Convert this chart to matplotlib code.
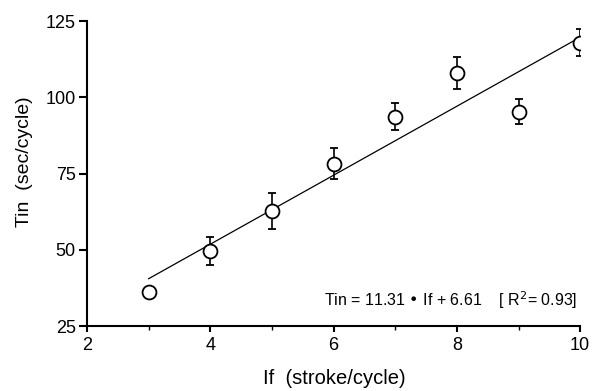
import numpy as np
import matplotlib
matplotlib.use("Agg")
import matplotlib.pyplot as plt
from matplotlib.ticker import MultipleLocator

# -----------------------------
# Data
# -----------------------------
if_vals = [3, 4, 5, 6, 7, 8, 9, 10]
tin_vals = [36.2, 49.6, 62.8, 78.3, 93.6, 108.0, 95.3, 117.9]
tin_err = [0.0, 4.7, 5.8, 5.0, 4.4, 5.1, 4.0, 4.4]

slope = 11.31
intercept = 6.61
fit_x = [3, 10]

plt.rcParams['font.family'] = ['Liberation Sans', 'DejaVu Sans']

# -----------------------------
# Plot
# -----------------------------
fig = plt.figure(figsize=(5.92, 3.91), dpi=100)
ax = fig.add_axes([0.147, 0.166, 0.833, 0.780])

fit_y = [slope * x + intercept for x in fit_x]
ax.plot(fit_x, fit_y, color="black", linewidth=0.9, zorder=1)

ax.errorbar(if_vals, tin_vals, yerr=tin_err, fmt="o", markersize=10,
            markerfacecolor="white", markeredgecolor="black", markeredgewidth=1.3,
            ecolor="black", elinewidth=1.2, capsize=3, capthick=1.3, zorder=2)

ax.set_xlim(2, 10)
ax.set_ylim(25, 125)
ax.xaxis.set_major_locator(MultipleLocator(2))
ax.xaxis.set_minor_locator(MultipleLocator(1))
ax.yaxis.set_major_locator(MultipleLocator(25))

for side in ["top", "right"]:
    ax.spines[side].set_visible(False)
for side in ["left", "bottom"]:
    ax.spines[side].set_linewidth(1.5)

ax.tick_params(which="major", direction="out", width=1.5, labelsize=13)
ax.tick_params(axis="x", which="major", length=4, pad=4)
ax.tick_params(axis="y", which="major", length=6, pad=2)
ax.tick_params(which="minor", direction="out", length=3, width=1.0)

ax.set_xlabel("If  (stroke/cycle)", fontsize=14.5)
ax.set_ylabel("Tin  (sec/cycle)", fontsize=14)
ax.xaxis.set_label_coords(0.502, -0.141)
ax.yaxis.set_label_coords(-0.11, 0.54)

ax.text(9.95, 33.5, "Tin = 11.31 \u2022 If + 6.61    [ R$^2$= 0.93]",
        ha="right", va="center", fontsize=11.5)

plt.savefig("out.png", dpi=100)
plt.close()
